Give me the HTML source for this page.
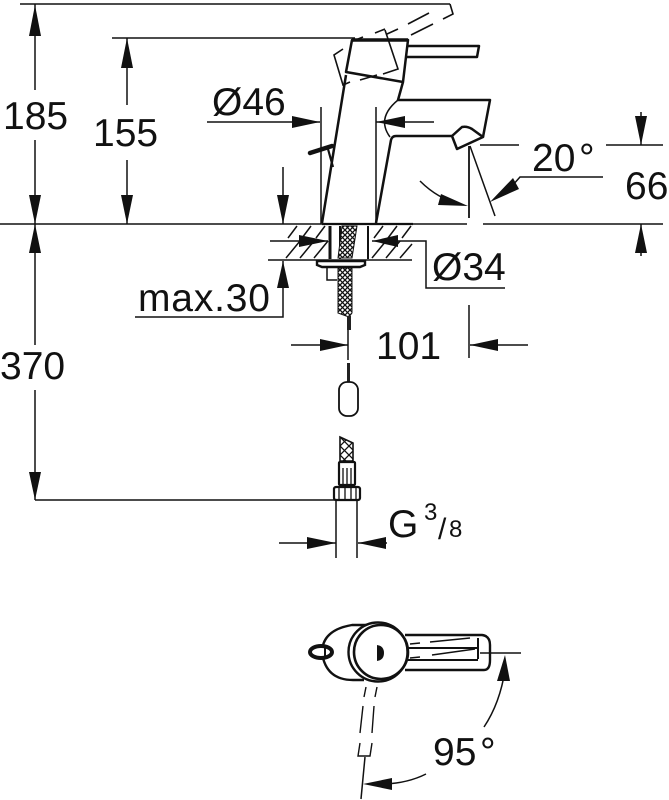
<!DOCTYPE html>
<html><head><meta charset="utf-8"><style>html,body{margin:0;padding:0;background:#fff}svg{display:block}text{font-family:"Liberation Sans",sans-serif;font-size:39px;fill:#111}</style></head>
<body>
<svg width="669" height="800" viewBox="0 0 669 800" xmlns="http://www.w3.org/2000/svg">
<defs>
<pattern id="m" width="5" height="5" patternUnits="userSpaceOnUse"><rect width="5" height="5" fill="#fff"/><path d="M0 0L5 5M5 0L0 5" stroke="#111" stroke-width="1.3"/></pattern>
<pattern id="n" width="9" height="9" patternUnits="userSpaceOnUse" x="340" y="437"><rect width="9" height="9" fill="#fff"/><path d="M0 0L9 9M9 0L0 9" stroke="#111" stroke-width="1.3"/></pattern>
</defs>
<rect width="669" height="800" fill="#fff"/>
<!-- thin dimension lines -->
<g fill="none" stroke="#111" stroke-width="1.5">
<path d="M20 4H450M112 38H355M0 224H467M483 224H663M480 145H519M606 145H663M35 4V90M35 140V345M35 390V500M127 38V105M127 160V224"/>
<path d="M641 112V145M641 224V256M35 500H336"/>
<path d="M207 122H320M376 122H434M321 107V224M376 107V224"/>
<path d="M283 167V224M268 260H412M283 261V317H135"/>
<path d="M270 241H328M372 241H426V288H505"/>
<path d="M291 345H348M348 300V360M469 305V358M470 345H528"/>
<path d="M279 543H336M358 543H387M336 500V558M357 500V558"/>
<path d="M469 146V218" stroke-width="1.8"/>
<path d="M470 146L495 216M603 177H520L512 186"/>
<path d="M420 181Q438 199 460 204"/>
<path d="M398 100Q376 118 390 137"/>
<path d="M480 653H521M484 727Q500 703 505 670M426 774Q408 783 385 784M365 757L361 799"/>
</g>
<!-- hatching -->
<g stroke="#111" stroke-width="1.5" fill="none">
<path d="M288 238L297 226M302 238L311 226M316 238L325 226M374 238L383 226M388 238L397 226M402 238L411 226M286 258L300 241M300 258L314 241M314 258L328 241M372 258L386 241M386 258L400 241M400 258L412 244"/>
</g>
<!-- arrowheads -->
<g fill="#111">
<polygon points="35,5 29,36 41,36"/><polygon points="35,224 29,195 41,195"/><polygon points="35,224 29,253 41,253"/><polygon points="35,500 29,472 41,472"/>
<polygon points="127,38 121,68 133,68"/><polygon points="127,224 121,195 133,195"/>
<polygon points="641,145 635,116 647,116"/><polygon points="641,224 635,253 647,253"/>
<polygon points="320,122 292,116 292,128"/><polygon points="376,122 405,116 405,128"/>
<polygon points="283,224 277,195 289,195"/><polygon points="283,261 277,288 289,288"/>
<polygon points="328,241 299,235 299,247"/><polygon points="372,241 398,235 398,247"/>
<polygon points="348,345 320,339 320,351"/><polygon points="470,345 498,339 498,351"/>
<polygon points="336,543 307,537 307,549"/><polygon points="358,543 386,537 386,549"/>
<polygon points="468,206 441,194 438,205"/><polygon points="490,202 519,189 513,178"/>
<polygon points="505,655 497,681 510,681"/><polygon points="363,784 392,778 392,790"/>
</g>
<!-- faucet -->
<g fill="none" stroke="#111" stroke-width="2.5" stroke-linejoin="round">
<path d="M346 75L322 223M376 223L391 140Q392 136 396 136H452"/>
<path d="M352 40H408L403 82L346 72Z"/>
<path d="M352 40H408" stroke-width="3.5"/>
<path d="M408 46L479 46L477 57H407"/>
<path d="M403 82L398 100H490L483 137"/>
<path d="M452 136L462 127Q467 126 472 129L483 137L457 149Z"/>
<path d="M322 224H413" stroke-width="2.2"/>
</g>
<path d="M310 153L332 146" stroke="#111" stroke-width="4.5" stroke-linecap="round"/>
<path d="M328 149L333 167" stroke="#111" stroke-width="2.2"/>
<!-- dashed lever -->
<g fill="none" stroke="#111" stroke-width="1.6">
<path d="M450 4L453 14L443 19M433 24L411 35M429 13L408 24M398 29L387 34M385 29L375 33M385 30L398 69L383 74M377 75L360 80M350 82L343 85L334 55L343 49M363 37L353 41"/>
</g>
<!-- shaft and hose -->
<path d="M330 226V259" stroke="#111" stroke-width="3" fill="none"/>
<path d="M340 226V259M368 226V259" stroke="#111" stroke-width="2" fill="none"/>
<path d="M342 226H357L352 258H338Z" fill="url(#m)" stroke="#111"/>
<path d="M317 261H365V265L360 267H322L317 265Z" fill="#fff" stroke="#111" stroke-width="2.4"/>
<path d="M327 268V280H337" fill="none" stroke="#111" stroke-width="1.5"/>
<path d="M338 268H352V313L349 317L338 313Z" fill="url(#m)" stroke="#111"/>
<path d="M347 316H351V330H347Z" fill="#222"/>
<path d="M347 363H350V382H347Z" fill="#222"/>
<rect x="339" y="382" width="19" height="34" rx="8" fill="#fff" stroke="#111" stroke-width="1.8"/>
<path d="M340 437L353 443V461H340Z" fill="url(#n)" stroke="#111" stroke-width="1.6"/>
<rect x="339" y="462" width="16" height="23" rx="1" fill="#fff" stroke="#111" stroke-width="2.2"/>
<path d="M343 468V484M347 468V484M351 468V484" stroke="#111" stroke-width="1.3"/>
<rect x="334" y="487" width="26" height="13" rx="2" fill="#fff" stroke="#111" stroke-width="2.2"/>
<path d="M339 488V499M345 488V499M351 488V499M356 488V499" stroke="#111" stroke-width="1.3"/>
<!-- top view -->
<g fill="none" stroke="#111" stroke-width="2.4">
<path d="M405 635H482Q490 636 490 645V660Q490 670 484 670H405"/>
<path d="M408 648H478M408 660H478M478 638V659" stroke-width="2"/>
<path d="M366 625H352Q322 630 322 653Q326 680 353 680H364"/>
<circle cx="378" cy="652" r="29.5" fill="#fff"/>
<circle cx="381" cy="652" r="27" stroke-width="2.6"/>
</g>
<path d="M377 645Q384 646 384 653Q384 660 377 661Z" fill="#111"/>
<ellipse cx="321" cy="652" rx="11" ry="6" fill="#fff" stroke="#111" stroke-width="4"/>
<path d="M325 648V656" stroke="#111" stroke-width="2"/>
<g fill="none" stroke="#111" stroke-width="1.4">
<path d="M410 644L420 643M430 642L470 638M410 658L420 657M432 655L475 649"/>
<path d="M366 687L364 697M363 706L360 733M377 687L375 697M374 706L372 733M360 743L358 756H370L372 743"/>
</g>
<!-- text -->
<text x="3" y="129">185</text>
<text x="93" y="146">155</text>
<text x="212" y="115">Ø46</text>
<text x="532" y="171">20</text><text x="579" y="171">°</text>
<text x="625" y="199">66</text>
<text x="432" y="280">Ø34</text>
<text x="138" y="311" textLength="132">max.30</text>
<text x="376" y="359">101</text>
<text x="0" y="379">370</text>
<text x="388" y="537">G</text>
<text x="424" y="520" style="font-size:24px">3</text>
<text x="438" y="539" style="font-size:30px">/</text>
<text x="449" y="537" style="font-size:24px">8</text>
<text x="433" y="765">95</text><text x="480" y="765">°</text>
</svg>
</body></html>
